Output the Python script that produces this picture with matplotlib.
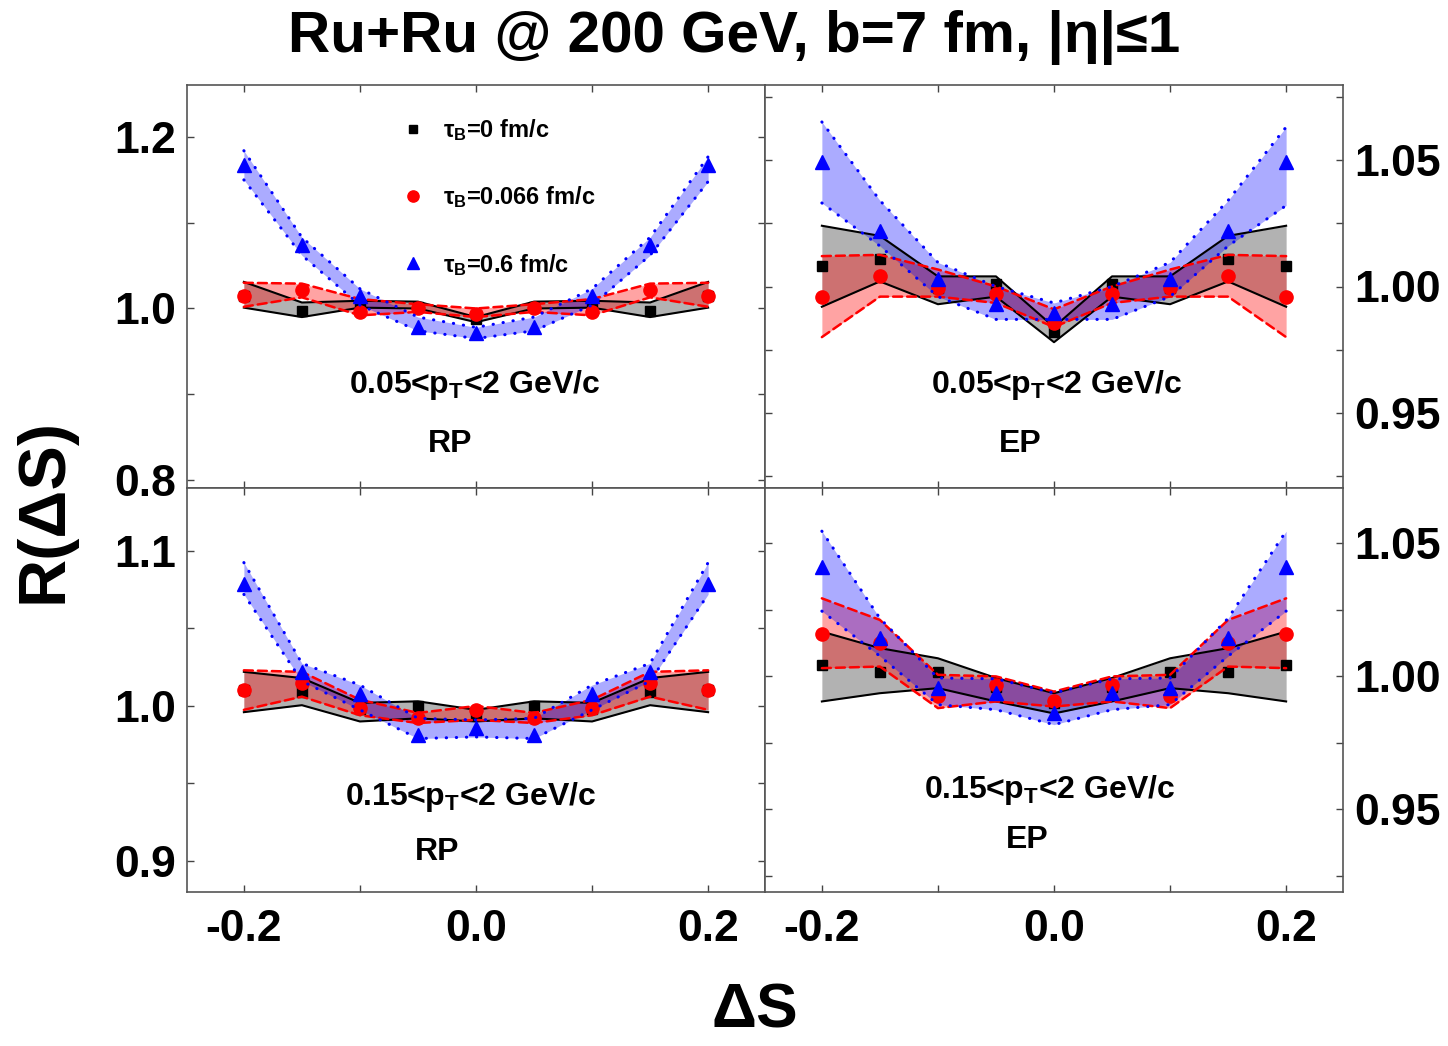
import matplotlib
matplotlib.use("Agg")
import matplotlib.pyplot as plt
from matplotlib.lines import Line2D
from matplotlib.ticker import MultipleLocator, FormatStrFormatter

plt.rcParams["font.family"] = ["Liberation Sans", "DejaVu Sans"]
plt.rcParams["font.weight"] = "bold"
plt.rcParams["mathtext.fontset"] = "custom"
plt.rcParams["mathtext.rm"] = "Liberation Sans:bold"
plt.rcParams["mathtext.it"] = "Liberation Sans:bold"
plt.rcParams["mathtext.bf"] = "Liberation Sans:bold"
plt.rcParams["axes.unicode_minus"] = False

# charge separation
dS = [-0.2, -0.15, -0.1, -0.05, 0.0, 0.05, 0.1, 0.15, 0.2]

# RP, 0.05<pT<2
rp05_tau0 = [1.015, 0.997, 1.005, 1.002, 0.988, 1.002, 1.005, 0.997, 1.015]
rp05_tau0_lo = [1.001, 0.990, 1.001, 1.000, 0.984, 1.000, 1.001, 0.990, 1.001]
rp05_tau0_hi = [1.031, 1.007, 1.009, 1.008, 0.990, 1.008, 1.009, 1.007, 1.031]
rp05_tau066 = [1.015, 1.022, 0.996, 1.000, 0.994, 1.000, 0.996, 1.022, 1.015]
rp05_tau066_lo = [1.002, 1.013, 0.992, 0.996, 0.990, 0.996, 0.992, 1.013, 1.002]
rp05_tau066_hi = [1.030, 1.029, 1.011, 1.005, 1.000, 1.005, 1.011, 1.029, 1.030]
rp05_tau6 = [1.167, 1.074, 1.015, 0.978, 0.972, 0.978, 1.015, 1.074, 1.167]
rp05_tau6_lo = [1.150, 1.062, 1.004, 0.974, 0.965, 0.974, 1.004, 1.062, 1.148]
rp05_tau6_hi = [1.184, 1.083, 1.023, 0.990, 0.978, 0.990, 1.023, 1.083, 1.177]

# EP, 0.05<pT<2
ep05_tau0 = [1.008, 1.011, 0.9995, 1.001, 0.982, 1.001, 0.9995, 1.011, 1.008]
ep05_tau0_lo = [0.992, 1.002, 0.993, 0.996, 0.978, 0.996, 0.993, 1.002, 0.992]
ep05_tau0_hi = [1.024, 1.020, 1.004, 1.004, 0.984, 1.004, 1.004, 1.020, 1.024]
ep05_tau066 = [0.996, 1.004, 0.9995, 0.997, 0.9855, 0.997, 0.9995, 1.004, 0.996]
ep05_tau066_lo = [0.980, 0.996, 0.996, 0.9935, 0.984, 0.9935, 0.996, 0.996, 0.980]
ep05_tau066_hi = [1.012, 1.0125, 1.0067, 1.000, 0.991, 1.000, 1.0067, 1.0125, 1.012]
ep05_tau6 = [1.049, 1.022, 1.003, 0.993, 0.9895, 0.993, 1.003, 1.022, 1.049]
ep05_tau6_lo = [1.033, 1.016, 0.996, 0.987, 0.987, 0.987, 0.996, 1.016, 1.032]
ep05_tau6_hi = [1.065, 1.034, 1.0095, 1.000, 0.9935, 1.000, 1.0095, 1.034, 1.063]

# RP, 0.15<pT<2
rp15_tau0 = [1.010, 1.009, 0.998, 1.000, 0.994, 1.000, 0.998, 1.009, 1.010]
rp15_tau0_lo = [0.996, 1.0005, 0.990, 0.992, 0.990, 0.992, 0.990, 1.0005, 0.996]
rp15_tau0_hi = [1.022, 1.018, 1.002, 1.003, 0.9975, 1.003, 1.002, 1.018, 1.022]
rp15_tau066 = [1.010, 1.0145, 0.9985, 0.992, 0.9975, 0.992, 0.9985, 1.0145, 1.010]
rp15_tau066_lo = [0.9975, 1.006, 0.994, 0.989, 0.991, 0.989, 0.994, 1.006, 0.9975]
rp15_tau066_hi = [1.023, 1.022, 1.004, 0.9955, 1.000, 0.9955, 1.004, 1.022, 1.023]
rp15_tau6 = [1.0785, 1.022, 1.008, 0.981, 0.9855, 0.981, 1.008, 1.022, 1.0785]
rp15_tau6_lo = [1.072, 1.016, 0.9975, 0.979, 0.980, 0.979, 0.9975, 1.016, 1.072]
rp15_tau6_hi = [1.0925, 1.0275, 1.0135, 0.992, 0.991, 0.992, 1.0135, 1.0275, 1.0925]

# EP, 0.15<pT<2
ep15_tau0 = [1.004, 1.0017, 1.0014, 0.996, 0.990, 0.996, 1.0014, 1.0017, 1.004]
ep15_tau0_lo = [0.9905, 0.9936, 0.9955, 0.9905, 0.986, 0.9905, 0.9955, 0.9936, 0.9905]
ep15_tau0_hi = [1.0167, 1.0105, 1.0067, 0.9993, 0.9936, 0.9993, 1.0067, 1.0105, 1.0167]
ep15_tau066 = [1.0158, 1.0125, 0.9924, 0.9967, 0.9905, 0.9967, 0.9924, 1.0125, 1.0158]
ep15_tau066_lo = [1.003, 1.0036, 0.988, 0.9905, 0.9886, 0.9905, 0.988, 1.0036, 1.003]
ep15_tau066_hi = [1.0292, 1.0211, 1.0005, 0.9999, 0.9942, 0.9999, 1.0005, 1.0211, 1.0292]
ep15_tau6 = [1.041, 1.0142, 0.9955, 0.9936, 0.9861, 0.9936, 0.9955, 1.0142, 1.041]
ep15_tau6_lo = [1.0244, 1.0075, 0.9893, 0.9874, 0.9818, 0.9874, 0.9893, 1.0075, 1.0244]
ep15_tau6_hi = [1.0544, 1.0217, 0.9993, 0.999, 0.9937, 0.999, 0.9993, 1.0217, 1.0544]

labels = [r"$\tau_{\mathrm{B}}$=0 fm/c", r"$\tau_{\mathrm{B}}$=0.066 fm/c", r"$\tau_{\mathrm{B}}$=0.6 fm/c"]

# band/marker styles for tau_B = 0, 0.066, 0.6
styles = [
    dict(fill="#7f7f7f", alpha=0.6, lc="black", ls="-", lw=1.5, marker="s", mc="black", ms=7),
    dict(fill="red", alpha=0.36, lc="red", ls=(0, (3.6, 2.0)), lw=1.8, marker="o", mc="red", ms=9.5),
    dict(fill="blue", alpha=0.33, lc="blue", ls=(0, (0.1, 3.2)), lw=2.2, marker="^", mc="blue", ms=10),
]

fig = plt.figure(figsize=(14.48, 10.46), dpi=100)
W, H = 1448, 1046
xl, xm, xr = 187 / W, 765 / W, 1343 / W
yt, ym, yb = 1 - 85 / H, 1 - 488 / H, 1 - 892 / H

ax_tl = fig.add_axes([xl, ym, xm - xl, yt - ym])
ax_tr = fig.add_axes([xm, ym, xr - xm, yt - ym])
ax_bl = fig.add_axes([xl, yb, xm - xl, ym - yb])
ax_br = fig.add_axes([xm, yb, xr - xm, ym - yb])

panels = [
    (ax_tl, [(rp05_tau0, rp05_tau0_lo, rp05_tau0_hi),
             (rp05_tau066, rp05_tau066_lo, rp05_tau066_hi),
             (rp05_tau6, rp05_tau6_lo, rp05_tau6_hi)],
     (0.7907, 1.2606), 0.2, 0.1, "%.1f"),
    (ax_tr, [(ep05_tau0, ep05_tau0_lo, ep05_tau0_hi),
             (ep05_tau066, ep05_tau066_lo, ep05_tau066_hi),
             (ep05_tau6, ep05_tau6_lo, ep05_tau6_hi)],
     (0.9204, 1.0796), 0.05, 0.025, "%.2f"),
    (ax_bl, [(rp15_tau0, rp15_tau0_lo, rp15_tau0_hi),
             (rp15_tau066, rp15_tau066_lo, rp15_tau066_hi),
             (rp15_tau6, rp15_tau6_lo, rp15_tau6_hi)],
     (0.880, 1.1406), 0.1, 0.05, "%.1f"),
    (ax_br, [(ep15_tau0, ep15_tau0_lo, ep15_tau0_hi),
             (ep15_tau066, ep15_tau066_lo, ep15_tau066_hi),
             (ep15_tau6, ep15_tau6_lo, ep15_tau6_hi)],
     (0.919, 1.0706), 0.05, 0.025, "%.2f"),
]

for ax, series, ylim, major, minor, fmt in panels:
    for (c, lo, hi), st in zip(series, styles):
        ax.fill_between(dS, lo, hi, color=st["fill"], alpha=st["alpha"], lw=0)
        for edge in (lo, hi):
            ax.plot(dS, edge, color=st["lc"], ls=st["ls"], lw=st["lw"],
                    dash_capstyle="round")
        ax.plot(dS, c, ls="none", marker=st["marker"], color=st["mc"],
                ms=st["ms"], mec=st["mc"])
    ax.set_xlim(-0.249, 0.249)
    ax.set_ylim(*ylim)
    ax.xaxis.set_major_locator(MultipleLocator(0.2))
    ax.xaxis.set_minor_locator(MultipleLocator(0.1))
    ax.xaxis.set_major_formatter(FormatStrFormatter("%.1f"))
    ax.yaxis.set_major_locator(MultipleLocator(major))
    ax.yaxis.set_minor_locator(MultipleLocator(minor))
    ax.yaxis.set_major_formatter(FormatStrFormatter(fmt))
    ax.tick_params(which="both", direction="in", top=True, right=True,
                   length=5, width=1, labelsize=32, color="#444444")
    ax.tick_params(axis="x", pad=12)
    ax.tick_params(axis="y", pad=8)
    for sp in ax.spines.values():
        sp.set_color("#555555")
        sp.set_linewidth(1.2)

for ax in (ax_tl, ax_tr):
    ax.tick_params(axis="x", labelbottom=False)
for ax in (ax_tr, ax_br):
    ax.tick_params(axis="y", labelleft=False, labelright=True)

# panel labels
ax_tl.text(0.498, 0.236, r"0.05<p$_{\mathrm{T}}$<2 GeV/c", transform=ax_tl.transAxes,
           ha="center", va="baseline", fontsize=23)
ax_tl.text(0.455, 0.090, "RP", transform=ax_tl.transAxes, ha="center", va="baseline", fontsize=23)
ax_tr.text(0.505, 0.236, r"0.05<p$_{\mathrm{T}}$<2 GeV/c", transform=ax_tr.transAxes,
           ha="center", va="baseline", fontsize=23)
ax_tr.text(0.441, 0.090, "EP", transform=ax_tr.transAxes, ha="center", va="baseline", fontsize=23)
ax_bl.text(0.490, 0.215, r"0.15<p$_{\mathrm{T}}$<2 GeV/c", transform=ax_bl.transAxes,
           ha="center", va="baseline", fontsize=23)
ax_bl.text(0.433, 0.080, "RP", transform=ax_bl.transAxes, ha="center", va="baseline", fontsize=23)
ax_br.text(0.493, 0.233, r"0.15<p$_{\mathrm{T}}$<2 GeV/c", transform=ax_br.transAxes,
           ha="center", va="baseline", fontsize=23)
ax_br.text(0.453, 0.110, "EP", transform=ax_br.transAxes, ha="center", va="baseline", fontsize=23)

# legend (markers only)
handles = [Line2D([], [], ls="none", marker=st["marker"], color=st["mc"], ms=st["ms"] * 0.85)
           for st in styles]
ax_tl.legend(handles, labels, loc="upper left", bbox_to_anchor=(0.37, 0.92),
             frameon=False, fontsize=17, handlelength=1.0, handletextpad=0.8,
             labelspacing=1.75, borderpad=0, borderaxespad=0)

fig.text(0.507, 0.964, "Ru+Ru @ 200 GeV, b=7 fm, |η|≤1", ha="center", va="center",
         fontsize=42)
fig.text(0.031, 0.512, "R(ΔS)", rotation=90, ha="center", va="center", fontsize=48)
fig.text(0.521, 0.033, "ΔS", ha="center", va="center", fontsize=45)

fig.savefig("out.png", dpi=100)
